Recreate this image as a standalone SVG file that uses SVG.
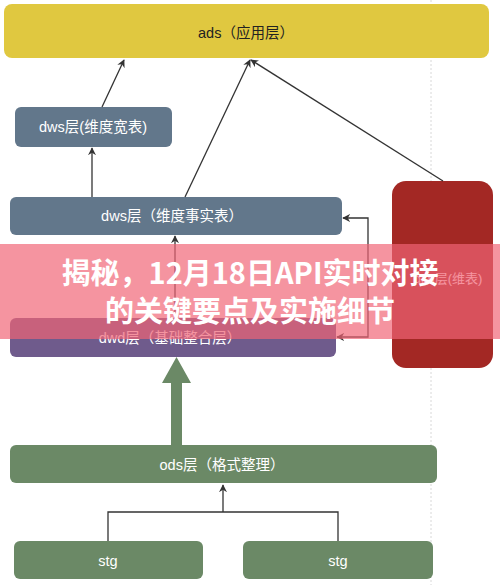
<svg xmlns="http://www.w3.org/2000/svg" width="500" height="585" viewBox="0 0 500 585">
<style>
.lbl{font-family:"Liberation Sans","Noto Sans CJK SC",sans-serif;font-size:14.5px;text-anchor:middle;fill:#ffffff}
.dark{fill:#222222}
.ln{fill:none;stroke:#333333;stroke-width:1.3}
.ban{font-family:"Noto Sans CJK SC","Liberation Sans",sans-serif;font-size:29px;font-weight:bold;text-anchor:middle;fill:#ffffff}
</style>
<defs>
<marker id="ah" viewBox="0 0 10 10" refX="9" refY="5" markerWidth="8" markerHeight="8" markerUnits="userSpaceOnUse" orient="auto-start-reverse">
<path d="M0,0 L10,5 L0,10 L3,5 Z" fill="#333333"/>
</marker>
</defs>
<rect width="500" height="585" fill="#ffffff"/>
<line x1="431" y1="0" x2="431" y2="585" stroke="#d8d8d8" stroke-width="1" stroke-dasharray="2,2"/>

<g id="ads">
<rect x="4" y="4" width="485" height="54" rx="8" fill="#e0c840"/>
<text class="lbl dark" x="246" y="38">ads（应用层）</text>
</g>
<g id="dws-wide">
<rect x="15" y="107" width="157" height="40" rx="6" fill="#62778b"/>
<text class="lbl" x="93" y="132">dws层(维度宽表)</text>
</g>
<g id="dws-fact">
<rect x="10" y="197" width="332" height="38" rx="6" fill="#62778b"/>
<text class="lbl" x="172" y="221">dws层（维度事实表）</text>
</g>
<g id="dim">
<rect x="392" y="181" width="101" height="187" rx="14" fill="#a32824"/>
<text class="lbl" x="448" y="283" style="font-size:13px">dim层(维表)</text>
</g>
<g id="dwd">
<rect x="10" y="318" width="326" height="39" rx="6" fill="#6f5b8c"/>
<text class="lbl" x="170" y="343">dwd层（基础整合层）</text>
</g>
<g id="ods">
<rect x="10" y="445" width="427" height="38" rx="6" fill="#6b8966"/>
<text class="lbl" x="222" y="470">ods层（格式整理）</text>
</g>
<g id="stg1">
<rect x="14" y="541" width="189" height="38" rx="6" fill="#6b8966"/>
<text class="lbl" x="108" y="566">stg</text>
</g>
<g id="stg2">
<rect x="243" y="541" width="190" height="38" rx="6" fill="#6b8966"/>
<text class="lbl" x="338" y="566">stg</text>
</g>

<g id="connectors">
<line class="ln" x1="102" y1="107" x2="124" y2="60" marker-end="url(#ah)"/>
<line class="ln" x1="185" y1="197" x2="250" y2="60" marker-end="url(#ah)"/>
<line class="ln" x1="443" y1="181" x2="251" y2="60" marker-end="url(#ah)"/>
<line class="ln" x1="92" y1="197" x2="92" y2="148" marker-end="url(#ah)"/>
<line class="ln" x1="175" y1="318" x2="175" y2="236" marker-end="url(#ah)"/>
<polyline class="ln" points="343,218 368,218 368,337 337,337" marker-start="url(#ah)" marker-end="url(#ah)"/>
<polygon points="171,445 182,445 182,383 191,383 176.5,357 162,383 171,383" fill="#6b8966"/>
<polyline class="ln" points="108,541 108,512 338,512 338,541"/>
<line class="ln" x1="223" y1="512" x2="223" y2="485" marker-end="url(#ah)"/>
</g>

<g id="banner">
<rect x="0" y="244" width="500" height="95" fill="rgb(240,100,118)" fill-opacity="0.69"/>
<text class="ban" x="250" y="284">揭秘，12月18日API实时对接</text>
<text class="ban" x="250" y="322">的关键要点及实施细节</text>
</g>
</svg>
